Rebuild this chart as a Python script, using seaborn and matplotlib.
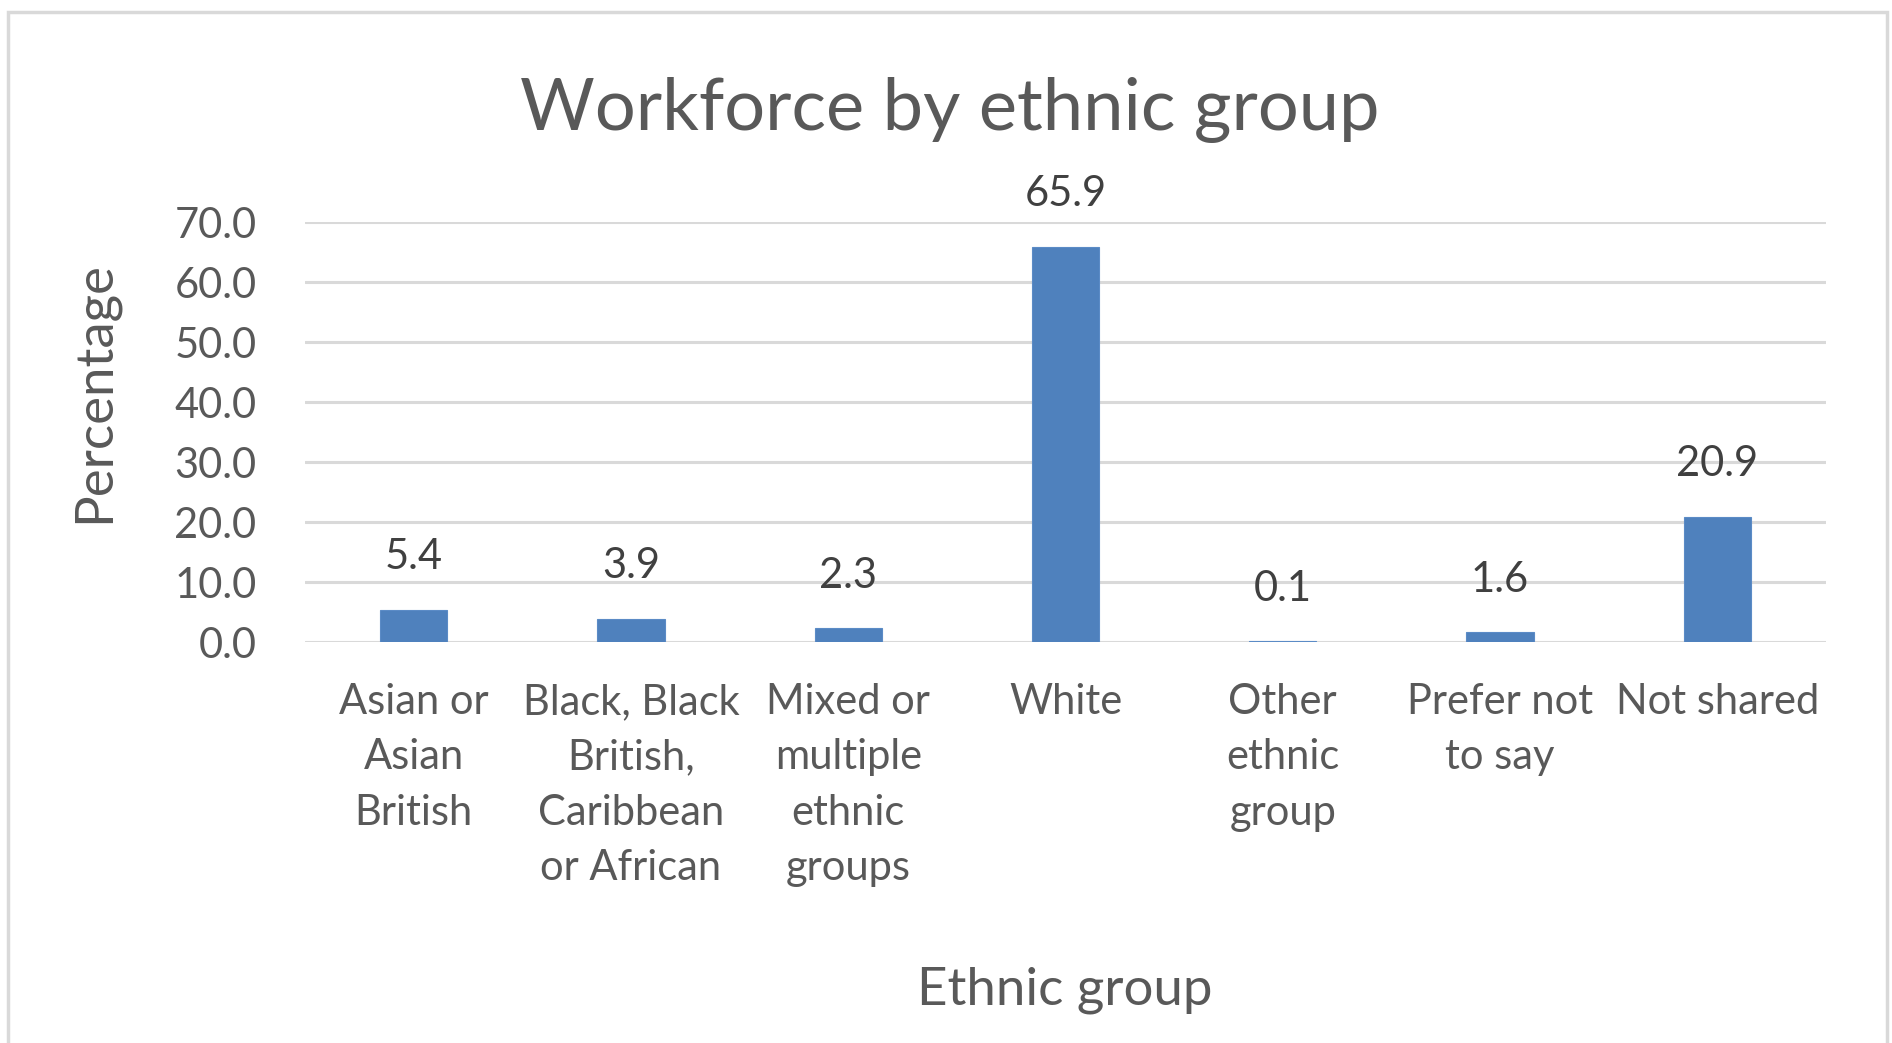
import matplotlib
matplotlib.use("Agg")
import matplotlib.pyplot as plt
from matplotlib.patches import Rectangle
import seaborn as sns
import pandas as pd

# Workforce share by ethnic group (percent)
categories = [
    "Asian or\nAsian\nBritish",
    "Black, Black\nBritish,\nCaribbean\nor African",
    "Mixed or\nmultiple\nethnic\ngroups",
    "White",
    "Other\nethnic\ngroup",
    "Prefer not\nto say",
    "Not shared",
]
values = [5.4, 3.9, 2.3, 65.9, 0.1, 1.6, 20.9]
y_ticks = [0, 10, 20, 30, 40, 50, 60, 70]

title_text = "Workforce by ethnic group"
x_label = "Ethnic group"
y_label = "Percentage"

BAR = "#4F81BD"
GRID = "#D9D9D9"
TEXT = "#595959"
LABEL = "#404040"

sns.set_theme(style="white")
plt.rcParams["font.family"] = ["Lato", "DejaVu Sans"]

W, H = 1892, 1043
fig = plt.figure(figsize=(W / 100, H / 100), dpi=100)
fig.patch.set_facecolor("white")

# plot area in pixel terms
left, right, top, bottom = 305, 1826, 222, 642
ax = fig.add_axes([left / W, 1 - bottom / H, (right - left) / W, (bottom - top) / H])

df = pd.DataFrame({"group": categories, "pct": values})
sns.barplot(data=df, x="group", y="pct", color=BAR, width=0.31, ax=ax,
            saturation=1, edgecolor="#5B8BC6", linewidth=0.8, zorder=3)

ax.set_ylim(0, 70)
ax.set_yticks(y_ticks)
ax.set_yticklabels([f"{t:.1f}" for t in y_ticks])
ax.yaxis.grid(True, color=GRID, linewidth=2.2, zorder=0)
ax.set_axisbelow(True)
for s in ax.spines.values():
    s.set_visible(False)
ax.tick_params(axis="both", length=0, labelsize=30, colors=TEXT)
ax.tick_params(axis="y", pad=35)
ax.tick_params(axis="x", pad=29.5)
for lbl in ax.get_xticklabels():
    lbl.set_linespacing(1.56)
    lbl.set_va("top")
ax.set_xlabel("")
ax.set_ylabel("")

# value labels above each bar
for i, v in enumerate(values):
    ax.annotate(f"{v:.1f}", xy=(i, v), xytext=(0, 29), textcoords="offset points",
                ha="center", va="baseline", fontsize=30, color=LABEL)

fig.text(950 / W, 1 - 110 / H, title_text, ha="center", va="center",
         fontsize=52, color=TEXT)
fig.text(1065 / W, 1 - 990 / H, x_label, ha="center", va="center",
         fontsize=38, color=TEXT)
fig.text(94 / W, 1 - 392 / H, y_label, ha="center", va="center",
         rotation=90, fontsize=38, color=TEXT)

# light chart frame
fig.patches.append(Rectangle((8 / W, -0.05), (1887 - 8) / W, 1.05 - 12 / H,
                             transform=fig.transFigure, fill=False,
                             edgecolor=GRID, linewidth=2.5, zorder=0))

fig.savefig("out.png", dpi=100, facecolor="white")
